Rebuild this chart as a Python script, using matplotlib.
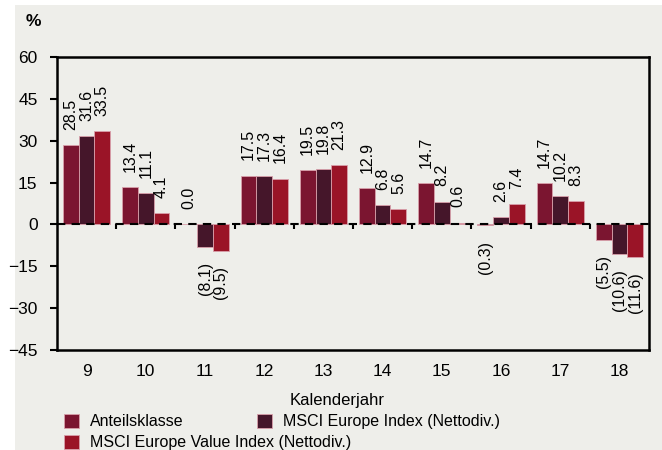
import numpy as np
import matplotlib
matplotlib.use("Agg")
import matplotlib.pyplot as plt
from matplotlib.patches import Rectangle

plt.rcParams['font.family'] = ['Liberation Sans', 'DejaVu Sans']

years = ["9", "10", "11", "12", "13", "14", "15", "16", "17", "18"]
anteilsklasse = [28.5, 13.4, 0.0, 17.5, 19.5, 12.9, 14.7, -0.3, 14.7, -5.5]
msci_europe = [31.6, 11.1, -8.1, 17.3, 19.8, 6.8, 8.2, 2.6, 10.2, -10.6]
msci_value = [33.5, 4.1, -9.5, 16.4, 21.3, 5.6, 0.6, 7.4, 8.3, -11.6]

series = [
    ("Anteilsklasse", anteilsklasse, "#7b1530"),
    ("MSCI Europe Index (Nettodiv.)", msci_europe, "#45162a"),
    ("MSCI Europe Value Index (Nettodiv.)", msci_value, "#9a1427"),
]

bg = "#eeeeea"
fs = 11.5
fig = plt.figure(figsize=(6.62, 4.5), dpi=100, facecolor=bg)
# white margins left and top
fig.patches.append(Rectangle((0, 0), 15 / 662, 1, transform=fig.transFigure,
                             facecolor="white", edgecolor="none", zorder=-1))
fig.patches.append(Rectangle((0, 1 - 5 / 450), 1, 5 / 450, transform=fig.transFigure,
                             facecolor="white", edgecolor="none", zorder=-1))

ax = fig.add_axes([57 / 662, 1 - 350 / 450, (649 - 57) / 662, (350 - 57) / 450])
ax.set_facecolor(bg)

x = np.arange(len(years))
w = 0.8 / 3
handles = []
for k, (name, vals, col) in enumerate(series):
    pos = x + (k - 1) * w
    b = ax.bar(pos, vals, width=w, color=col, edgecolor="#d9a0ab", linewidth=0.6,
               label=name, zorder=2)
    handles.append(b)
    for xi, v in zip(pos, vals):
        txt = f"{v:.1f}" if v >= 0 else f"({abs(v):.1f})"
        off = 11 if v >= 0 else -11
        ax.annotate(txt, (xi, v), xytext=(0, off), textcoords="offset points",
                    rotation=90, ha="center", va="bottom" if v >= 0 else "top",
                    fontsize=fs, zorder=3)

# dashed zero line with category boundary ticks
ax.axhline(0, color="black", linestyle=(0, (4, 3)), linewidth=1.5, zorder=4)
for b in x[:-1] + 0.5:
    ax.plot([b, b], [0, -1.8], color="black", linewidth=1.5, zorder=4,
            solid_capstyle="butt")

ax.set_xlim(-0.5, len(years) - 0.5)
ax.set_ylim(-45, 60)
ax.set_yticks(np.arange(-45, 61, 15))
ax.set_xticks(x)
ax.set_xticklabels(years)
ax.tick_params(axis="y", direction="out", length=5, width=1.5, labelsize=12.5, pad=9)
ax.tick_params(axis="x", length=0, labelsize=12.5, pad=10)
for s in ax.spines.values():
    s.set_linewidth(1.8)
    s.set_color("black")

fig.text(33 / 662, 1 - 22 / 450, "%", fontsize=12.5, fontweight="bold", ha="center", va="center")
fig.text(337 / 662, 1 - 400 / 450, "Kalenderjahr", fontsize=12, ha="center", va="center")

leg_kw = dict(loc="upper left", frameon=False, fontsize=fs, handlelength=0.95,
              handleheight=0.95, handletextpad=0.65, labelspacing=0.35,
              borderaxespad=0, borderpad=0)
fig.legend([handles[0], handles[2]], [series[0][0], series[2][0]],
           bbox_to_anchor=(64 / 662, 1 - 414 / 450), **leg_kw)
fig.legend([handles[1]], [series[1][0]],
           bbox_to_anchor=(257 / 662, 1 - 414 / 450), **leg_kw)

fig.savefig("out.png", dpi=100, facecolor=bg)
